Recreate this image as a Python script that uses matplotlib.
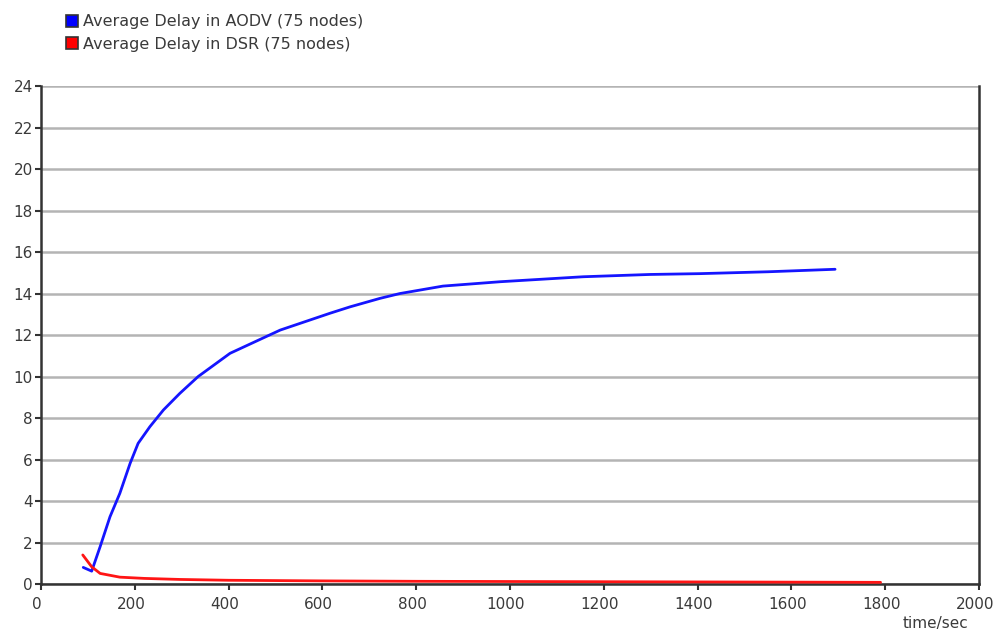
import matplotlib
matplotlib.use("Agg")
import matplotlib.pyplot as plt
from matplotlib.patches import Patch
from matplotlib.transforms import ScaledTranslation

plt.rcParams['font.family'] = ['DejaVu Sans']

# Data
aodv_t = [90, 108, 126, 147, 168, 190, 207, 232, 261, 296, 335, 403, 510, 616, 659, 723,
          765, 857, 979, 1156, 1298, 1405, 1550, 1693]
aodv_delay = [0.8, 0.62, 1.8, 3.24, 4.37, 5.82, 6.78, 7.58, 8.39, 9.19, 10.0, 11.12, 12.24, 13.05,
              13.36, 13.77, 14.0, 14.36, 14.57, 14.81, 14.92, 14.96, 15.05, 15.17]
dsr_t = [89, 108, 126, 168, 220, 296, 400, 600, 800, 1000, 1200, 1400, 1600, 1790]
dsr_delay = [1.4, 0.83, 0.51, 0.33, 0.27, 0.22, 0.18, 0.15, 0.13, 0.12, 0.11, 0.1, 0.09, 0.08]
x_ticks = list(range(0, 2001, 200))
y_ticks = list(range(0, 25, 2))
legend_labels = ["Average Delay in AODV (75 nodes)", "Average Delay in DSR (75 nodes)"]

fig = plt.figure(figsize=(9.96, 6.33), dpi=100)
ax = fig.add_axes([0.0412, 0.0774, 0.9418, 0.7866])

ax.plot(aodv_t, aodv_delay, color='#1515ff', lw=2.0, zorder=3,
        solid_joinstyle='round', solid_capstyle='round')
ax.plot(dsr_t, dsr_delay, color='#ff1515', lw=2.0, zorder=3,
        solid_joinstyle='round', solid_capstyle='round')

ax.set_xlim(0, 2000)
ax.set_ylim(0, 24)
ax.set_xticks(x_ticks)
ax.set_yticks(y_ticks)
ax.yaxis.grid(True, color='#b4b4b4', lw=1.8)
ax.set_axisbelow(True)
for s in ['left', 'bottom', 'right']:
    ax.spines[s].set_color('#333333')
    ax.spines[s].set_linewidth(1.8)
ax.spines['top'].set_visible(False)
ax.tick_params(axis='both', direction='out', length=4, width=1.5, color='#333333',
               labelsize=11, labelcolor='#3a3a3a', pad=2)
ax.tick_params(axis='x', pad=5)
shift = ScaledTranslation(-4 / 100, 0, fig.dpi_scale_trans)
for lbl in ax.get_xticklabels():
    lbl.set_transform(lbl.get_transform() + shift)

fig.text(0.939, 0.003, "time/sec", fontsize=11, color='#3a3a3a', ha='center', va='bottom')

handles = [Patch(facecolor='#0000ff', edgecolor='#333333', lw=1.2),
           Patch(facecolor='#ff0000', edgecolor='#333333', lw=1.2)]
fig.legend(handles, legend_labels, loc='upper left', bbox_to_anchor=(0.052, 1.0),
           frameon=False, fontsize=11.5, handlelength=0.75, handleheight=0.75,
           handletextpad=0.3, labelspacing=0.45, labelcolor='#3a3a3a')

fig.savefig("out.png", dpi=100)
